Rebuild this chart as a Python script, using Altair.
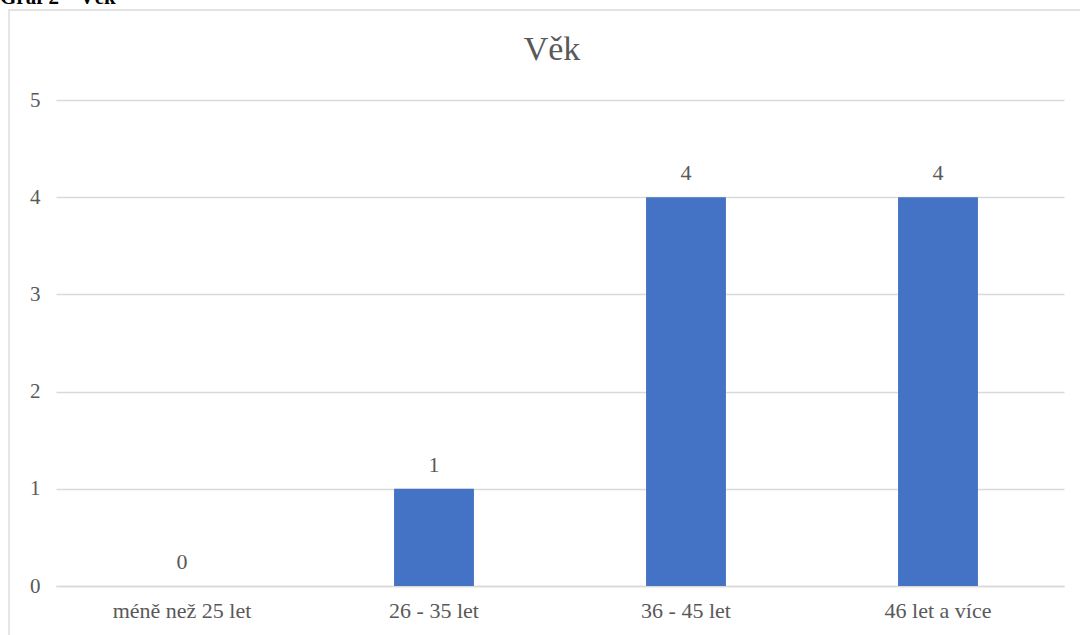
import altair as alt
import pandas as pd

categories = ["méně než 25 let", "26 - 35 let", "36 - 45 let", "46 let a více"]
values = [0, 1, 4, 4]
y_ticks = [0, 1, 2, 3, 4, 5]

df = pd.DataFrame({"kat": categories, "pocet": values})

FONT = "Liberation Serif"
GRAY = "#595959"

x_enc = alt.X("kat:N", sort=categories, title=None,
              scale=alt.Scale(paddingInner=0.683, paddingOuter=0.3415),
              axis=alt.Axis(labelAngle=0, labelFont=FONT, labelFontSize=22, labelColor=GRAY,
                            labelPadding=14, ticks=False, grid=False, domain=True,
                            domainColor="#d9d9d9", domainWidth=1.3))
y_enc = alt.Y("pocet:Q", title=None,
              scale=alt.Scale(domain=[0, 5], nice=False),
              axis=alt.Axis(values=y_ticks, format="d", labelFont=FONT, labelFontSize=21,
                            labelColor=GRAY, labelPadding=16, ticks=False, domain=False,
                            gridColor="#d9d9d9", gridWidth=1.3))

base = alt.Chart(df)

bars = base.mark_bar(color="#4472C4").encode(x=x_enc, y=y_enc)
labels = base.mark_text(font=FONT, fontSize=22, color=GRAY, baseline="alphabetic", dy=-17).encode(
    x=alt.X("kat:N", sort=categories), y=alt.Y("pocet:Q"), text="pocet:Q")

frame = alt.Chart(pd.DataFrame({"a": [0]})).mark_rect(
    fill="transparent", stroke="#d9d9d9", strokeWidth=1.3, clip=False).encode(
    x=alt.value(-47), x2=alt.value(1035), y=alt.value(-90), y2=alt.value(545))

title = alt.Chart(pd.DataFrame({"t": ["Věk"]})).mark_text(
    font=FONT, fontSize=34, color=GRAY, baseline="middle", align="center").encode(
    x=alt.value(496), y=alt.value(-50), text="t:N")

heading = alt.Chart(pd.DataFrame({"t": ["Graf 2 – Věk"]})).mark_text(
    font=FONT, fontSize=21, fontWeight="bold", color="#000000", baseline="alphabetic", align="left").encode(
    x=alt.value(-56), y=alt.value(-96), text="t:N")

chart = alt.layer(frame, bars, labels, title, heading).properties(
    width=1008, height=486,
    background="white",
    autosize=alt.AutoSizeParams(type="none"),
    padding={"left": 56, "top": 100, "right": 16, "bottom": 49},
).configure_view(strokeWidth=0, stroke="transparent")

chart.save("out.html", embed_options={"renderer": "svg", "actions": False})
